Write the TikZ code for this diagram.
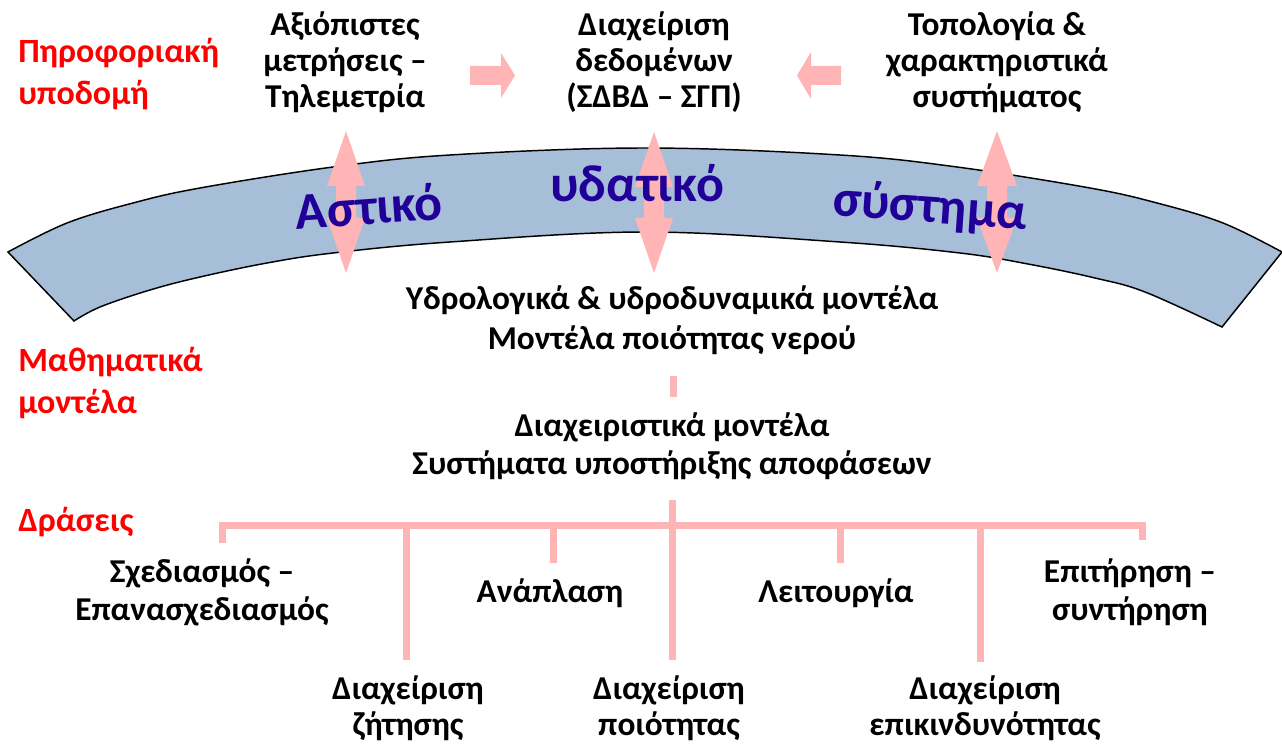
\documentclass[tikz,border=0pt]{standalone}
\usepackage{fontspec}
\setmainfont{Carlito}
\definecolor{apink}{RGB}{255,181,181}
\definecolor{bandblue}{RGB}{167,190,216}
\definecolor{deepblue}{RGB}{32,0,153}
\definecolor{lblred}{RGB}{255,0,0}
\begin{document}
\begin{tikzpicture}[x=0.75pt,y=-0.75pt,
  txt/.style={font=\bfseries\fontsize{25}{27}\selectfont,align=center,inner sep=0pt,text=black},
  lbl/.style={font=\bfseries\fontsize{25.5}{32}\selectfont,align=left,inner sep=0pt,text=lblred,anchor=west},
  big/.style={font=\bfseries\fontsize{39}{43}\selectfont,inner sep=0pt,text=deepblue},
  blockarrow/.style={fill=apink,draw=none},
  bar/.style={draw=apink,line width=5.25pt}]
\useasboundingbox (0,0) rectangle (1282,745);
% band
\filldraw[fill=bandblue,draw=black,line width=1.1pt]
  (8,252) -- plot[smooth,tension=0.6] coordinates {(8,252) (67,223) (133,203) (200,188) (333,167) (450,155) (645,148) (840,155) (957,167) (1090,188) (1157,203) (1223,223) (1282,252)}
  -- (1222,327)
  -- plot[smooth,tension=0.6] coordinates {(1222,327) (1145,292) (1095,278) (1028,264) (960,253) (840,242) (645,232) (450,242) (333,253) (267,263) (200,277) (150,290) (100,307) (74,321)}
  -- cycle;
% vertical double arrows
\fill[blockarrow] (346,131) -- (365,186) -- (356,186) -- (356,218) -- (365,218) -- (346,273) -- (327,218) -- (336,218) -- (336,186) -- (327,186) -- cycle;
\fill[blockarrow] (654,132) -- (673,187) -- (664,187) -- (664,218) -- (673,218) -- (654,273) -- (635,218) -- (644,218) -- (644,187) -- (635,187) -- cycle;
\fill[blockarrow] (997,131) -- (1017,186) -- (1007,186) -- (1007,218) -- (1017,218) -- (997,273) -- (977,218) -- (987,218) -- (987,186) -- (977,186) -- cycle;
% band words
\node[big,rotate=4] (w1) at (369,206) {Αστικό};
\node[big] (w2) at (637,183) {υδατικό};
\node[big,rotate=-4] (w3) at (930,208) {σύστημα};
% horizontal arrows
\fill[blockarrow] (470,66) -- (501,66) -- (501,53) -- (515,75.5) -- (501,98) -- (501,85) -- (470,85) -- cycle;
\fill[blockarrow] (841,66) -- (811,66) -- (811,52) -- (797,75.5) -- (811,99) -- (811,85) -- (841,85) -- cycle;
% red labels
\node[lbl] (l1) at (18,74) {Πηροφοριακή\\υποδομή};
\node[lbl] (l2) at (18,383) {Μαθηματικά\\μοντέλα};
\node[lbl] (l3) at (18,522) {Δράσεις};
% top texts
\node[txt] (t1) at (345,62) {Αξιόπιστες\\μετρήσεις –\\Τηλεμετρία};
\node[txt] (t2) at (654,62) {Διαχείριση\\δεδομένων\\(ΣΔΒΔ – ΣΓΠ)};
\node[txt] (t3) at (997,62) {Τοπολογία \&\\χαρακτηριστικά\\συστήματος};
% models
\node[txt,font=\bfseries\fontsize{25}{30}\selectfont] (m1) at (672,320) {Υδρολογικά \& υδροδυναμικά μοντέλα\\Μοντέλα ποιότητας νερού};
\node[txt,font=\bfseries\fontsize{25}{28.5}\selectfont] (m2) at (672,446) {Διαχειριστικά μοντέλα\\Συστήματα υποστήριξης αποφάσεων};
\coordinate (mt1) at (673,376);
\coordinate (mt2) at (673,397);
\draw[bar] (mt1) -- (mt2);
% actions
\node[txt,font=\bfseries\fontsize{25}{28.5}\selectfont] (a1) at (202,592) {Σχεδιασμός –\\Επανασχεδιασμός};
\node[txt] (a2) at (550,593) {Ανάπλαση};
\node[txt] (a3) at (836,593) {Λειτουργία};
\node[txt,font=\bfseries\fontsize{25}{28.5}\selectfont] (a4) at (1130,592) {Επιτήρηση –\\συντήρηση};
\node[txt] (b1) at (408,708) {Διαχείριση\\ζήτησης};
\node[txt] (b2) at (669,708) {Διαχείριση\\ποιότητας};
\node[txt] (b3) at (985,708) {Διαχείριση\\επικινδυνότητας};
% bracket
\coordinate (bl) at (218.5,525);
\coordinate (br) at (1145.5,525);
\coordinate (ctop) at (672,500);
\draw[bar] (bl) -- (br);
\draw[bar] (222,525) -- (222,543);
\draw[bar] (406,525) -- (406,660);
\draw[bar] (553,525) -- (553,563);
\draw[bar] (ctop) -- (672,660);
\draw[bar] (840,525) -- (840,563);
\draw[bar] (980,525) -- (980,662);
\draw[bar] (1142,525) -- (1142,540);
\end{tikzpicture}
\end{document}
